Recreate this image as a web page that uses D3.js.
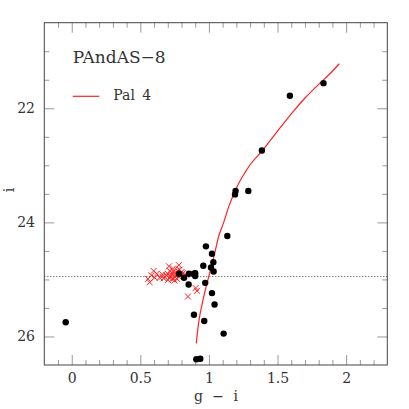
<!DOCTYPE html>
<html>
<head>
<meta charset="utf-8">
<script src="https://cdn.jsdelivr.net/npm/d3@7"></script>
<style>
  body { margin: 0; background: #fff; }
  svg { display: block; }
</style>
</head>
<body>
<div id="chart"></div>
<script>
// black dots: g-i colour and i magnitude
const dotsGI = [-0.044, 1.835, 1.59, 1.386, 1.194, 1.19, 1.287, 1.134, 0.978, 1.022, 1.032, 0.959, 1.015, 1.034,
  0.782, 0.818, 0.854, 0.89, 0.90, 0.90, 0.852, 0.973, 1.022, 1.041, 0.891, 0.966, 1.107, 0.908, 0.937];
const dotsI = [25.75, 21.56, 21.78, 22.74, 23.45, 23.51, 23.45, 24.24, 24.42, 24.55, 24.70, 24.76, 24.79, 24.86,
  24.90, 24.97, 24.90, 24.90, 24.94, 24.89, 25.09, 25.06, 25.24, 25.44, 25.62, 25.73, 25.95, 26.40, 26.39];

// red crosses (Pal 4 horizontal branch)
const crossGI = [0.597, 0.580, 0.605, 0.556, 0.568, 0.661, 0.670, 0.690, 0.714, 0.701, 0.726, 0.738, 0.743, 0.763,
  0.781, 0.787, 0.767, 0.811, 0.835, 0.709, 0.847, 0.903, 0.913, 0.641, 0.750,
  0.72, 0.73, 0.76, 0.70, 0.78, 0.74, 0.77, 0.71, 0.79, 0.75, 0.68, 0.82, 0.80, 0.73, 0.66, 0.62];
const crossI = [24.85, 24.93, 24.97, 24.99, 25.05, 24.91, 24.98, 24.93, 24.85, 25.01, 24.92, 24.81, 24.98, 24.89,
  24.75, 24.83, 24.99, 24.89, 24.92, 24.77, 25.30, 25.15, 25.20, 24.97, 24.95,
  24.95, 24.88, 24.93, 24.90, 24.95, 24.86, 24.84, 24.97, 24.90, 25.02, 24.96, 24.94, 24.87, 25.00, 24.95, 24.90];

// Pal 4 fiducial line
const isoGI = [0.908, 0.930, 0.968, 1.005, 1.042, 1.078, 1.102, 1.145, 1.185, 1.225, 1.262, 1.300, 1.390,
  1.490, 1.590, 1.700, 1.800, 1.880, 1.950];
const isoI = [26.12, 25.68, 25.24, 24.89, 24.54, 24.19, 24.04, 23.72, 23.48, 23.28, 23.13, 22.99, 22.74,
  22.43, 22.13, 21.82, 21.58, 21.40, 21.22];

const hbLevel = 24.95;

const xMajor = [0, 0.5, 1, 1.5, 2];
const yMajor = [22, 24, 26];

const FONT = "'DejaVu Serif', 'Liberation Serif', serif";

const W = 409, H = 409;
const margin = {left: 44.3, right: 21.7, top: 22.7, bottom: 44};
const width = W - margin.left - margin.right;
const height = H - margin.top - margin.bottom;

const svg = d3.select("#chart").append("svg")
    .attr("width", W)
    .attr("height", H);

const g = svg.append("g")
    .attr("transform", "translate(" + margin.left + "," + margin.top + ")");

const x = d3.scaleLinear().domain([-0.2, 2.3]).range([0, width]);
const y = d3.scaleLinear().domain([20.5, 26.5]).range([0, height]);

// minor tick positions
const xMinor = d3.range(-0.1, 2.3, 0.1).map(v => +v.toFixed(1)).filter(v => xMajor.indexOf(v) < 0);
const yMinor = d3.range(21, 26.5, 0.5).filter(v => yMajor.indexOf(v) < 0);

function styleAxis(sel) {
  sel.attr("font-family", null);
  sel.select(".domain").remove();
  sel.selectAll(".tick line").attr("stroke", "#999");
  sel.selectAll(".tick text")
    .style("font-family", FONT)
    .style("font-size", "14px")
    .attr("fill", "#333");
}

// bottom
g.append("g").attr("transform", "translate(0," + height + ")")
  .call(d3.axisBottom(x).tickValues(xMajor).tickSize(-10).tickPadding(8).tickFormat(d3.format("")))
  .call(styleAxis);
g.append("g").attr("transform", "translate(0," + height + ")")
  .call(d3.axisBottom(x).tickValues(xMinor).tickSize(-5).tickFormat(""))
  .call(styleAxis);
// top
g.append("g")
  .call(d3.axisTop(x).tickValues(xMajor).tickSize(-10).tickFormat(""))
  .call(styleAxis);
g.append("g")
  .call(d3.axisTop(x).tickValues(xMinor).tickSize(-5).tickFormat(""))
  .call(styleAxis);
// left
g.append("g")
  .call(d3.axisLeft(y).tickValues(yMajor).tickSize(-10).tickPadding(9.3).tickFormat(d3.format("")))
  .call(styleAxis);
g.append("g")
  .call(d3.axisLeft(y).tickValues(yMinor).tickSize(-5).tickFormat(""))
  .call(styleAxis);
// right
g.append("g").attr("transform", "translate(" + width + ",0)")
  .call(d3.axisRight(y).tickValues(yMajor).tickSize(-10).tickFormat(""))
  .call(styleAxis);
g.append("g").attr("transform", "translate(" + width + ",0)")
  .call(d3.axisRight(y).tickValues(yMinor).tickSize(-5).tickFormat(""))
  .call(styleAxis);

// horizontal branch level
g.append("line")
  .attr("x1", 0).attr("x2", width)
  .attr("y1", y(hbLevel)).attr("y2", y(hbLevel))
  .attr("stroke", "#444")
  .attr("stroke-width", 1)
  .attr("stroke-dasharray", "1,2");

// fiducial line
const line = d3.line()
  .x((d, i) => x(isoGI[i]))
  .y((d, i) => y(isoI[i]))
  .curve(d3.curveMonotoneY);
g.append("path")
  .datum(isoGI)
  .attr("d", line)
  .attr("fill", "none")
  .attr("stroke", "#f22")
  .attr("stroke-width", 1.2);

// crosses
const cs = 3;
g.selectAll(".cross")
  .data(crossGI)
  .enter().append("path")
    .attr("class", "cross")
    .attr("d", (d, i) => {
      const cx = x(d), cy = y(crossI[i]);
      return "M" + (cx - cs) + "," + (cy - cs) + "L" + (cx + cs) + "," + (cy + cs) +
             "M" + (cx - cs) + "," + (cy + cs) + "L" + (cx + cs) + "," + (cy - cs);
    })
    .attr("stroke", "#f22")
    .attr("stroke-width", 1)
    .attr("fill", "none");

// dots
g.selectAll(".dot")
  .data(dotsGI)
  .enter().append("circle")
    .attr("class", "dot")
    .attr("cx", d => x(d))
    .attr("cy", (d, i) => y(dotsI[i]))
    .attr("r", 3.2)
    .attr("fill", "#000");

// frame
g.append("rect")
  .attr("width", width).attr("height", height)
  .attr("fill", "none")
  .attr("stroke", "#444")
  .attr("stroke-width", 1);

// labels
svg.append("text")
  .attr("x", 216)
  .attr("y", 401)
  .attr("text-anchor", "middle")
  .attr("fill", "#333")
  .style("font-family", FONT)
  .style("font-size", "14px")
  .style("word-spacing", "5px")
  .text("g \u2212 i");

svg.append("text")
  .attr("transform", "translate(14,190) rotate(-90)")
  .attr("text-anchor", "middle")
  .attr("fill", "#333")
  .style("font-family", FONT)
  .style("font-size", "14px")
  .text("i");

svg.append("text")
  .attr("x", 72.7).attr("y", 63.3)
  .attr("fill", "#333")
  .style("font-family", FONT)
  .style("font-size", "17px")
  .text("PAndAS\u22128");

svg.append("line")
  .attr("x1", 72.7).attr("x2", 99.3)
  .attr("y1", 96.3).attr("y2", 96.3)
  .attr("stroke", "#f22")
  .attr("stroke-width", 1.2);

svg.append("text")
  .attr("x", 113.3).attr("y", 100)
  .attr("fill", "#333")
  .style("font-family", FONT)
  .style("font-size", "14px")
  .style("word-spacing", "3px")
  .text("Pal 4");
</script>
</body>
</html>
